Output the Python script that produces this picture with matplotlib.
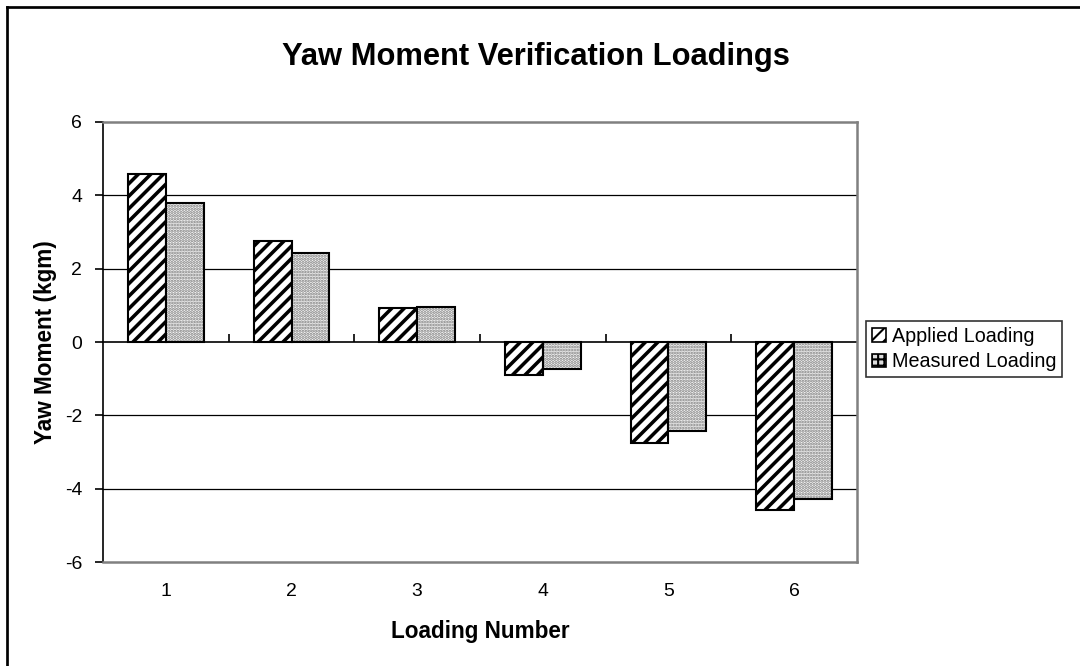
import matplotlib
matplotlib.use("Agg")
import matplotlib.pyplot as plt
from matplotlib.lines import Line2D
from matplotlib.patches import Patch
import numpy as np

categories = ["1", "2", "3", "4", "5", "6"]
applied = [4.58, 2.75, 0.92, -0.90, -2.75, -4.58]
measured = [3.78, 2.42, 0.95, -0.74, -2.43, -4.28]
yticks = [-6, -4, -2, 0, 2, 4, 6]

plt.rcParams['font.family'] = ['Liberation Sans', 'DejaVu Sans']

DPI = 150
fig = plt.figure(figsize=(1080 / DPI, 666 / DPI), dpi=DPI)
ax = fig.add_axes([103 / 1080, 1 - 562 / 666, (857 - 103) / 1080, (562 - 122) / 666])

x = np.arange(1, len(categories) + 1)
w = 0.3

# Applied: thick diagonal stripes
plt.rcParams['hatch.linewidth'] = 1.7
ax.bar(x - w / 2, applied, width=w, facecolor='white', edgecolor='black',
       hatch='////', linewidth=1.0, zorder=3)

# Measured: fine grey dots
plt.rcParams['hatch.linewidth'] = 1.0
ax.bar(x + w / 2, measured, width=w, facecolor='#f2f2f2', edgecolor='#808080',
       hatch='........', linewidth=0, zorder=3)
ax.bar(x + w / 2, measured, width=w, facecolor='none', edgecolor='black',
       linewidth=1.0, zorder=4)

ax.set_xlim(0.5, len(categories) + 0.5)
ax.set_ylim(-6, 6)
ax.set_yticks(yticks)
ax.set_yticklabels([str(t) for t in yticks], fontsize=9.3)
ax.set_xticks(x)
ax.set_xticklabels(categories, fontsize=9.3)
ax.tick_params(axis='x', length=0, pad=10)
ax.tick_params(axis='y', direction='out', length=4, width=0.8, color='black', pad=6)

for yv in yticks:
    if yv not in (0, 6, -6):
        ax.axhline(yv, color='black', linewidth=0.6, zorder=1)

for side in ('top', 'right', 'bottom'):
    ax.spines[side].set_color('#808080')
    ax.spines[side].set_linewidth(1.2)
ax.spines['left'].set_color('black')
ax.spines['left'].set_linewidth(0.8)

# category axis at zero with tick marks between categories
sec = ax.secondary_xaxis(0.5)
sec.set_xticks(np.arange(1.5, len(categories), 1.0))
sec.set_xticklabels([])
sec.tick_params(direction='out', length=4, width=0.8, color='black')
sec.spines['bottom'].set_color('#808080')
sec.spines['bottom'].set_linewidth(1.2)
sec.spines['bottom'].set_zorder(5)

fig.text(536 / 1080, 1 - 57 / 666, "Yaw Moment Verification Loadings",
         ha='center', va='center', fontsize=14.8, fontweight='bold')
fig.text(480 / 1080, 1 - 631 / 666, "Loading Number",
         ha='center', va='center', fontsize=10.8, fontweight='bold')
fig.text(46 / 1080, 1 - 342 / 666, "Yaw Moment (kgm)", rotation=90,
         ha='center', va='center', fontsize=10.8, fontweight='bold')

plt.rcParams['hatch.linewidth'] = 1.0
handles = [Patch(facecolor='white', edgecolor='black', hatch='////', linewidth=0.8),
           Patch(facecolor='#dddddd', edgecolor='black', hatch='++++', linewidth=0.8)]
leg = fig.legend(handles, ["Applied Loading", "Measured Loading"],
                 loc='center left', bbox_to_anchor=(866 / 1080, 1 - 349 / 666),
                 fontsize=9.5, frameon=True, fancybox=False, handlelength=0.7,
                 handleheight=0.7, handletextpad=0.3, borderpad=0.3,
                 labelspacing=0.35, borderaxespad=0)
leg.get_frame().set_edgecolor('black')
leg.get_frame().set_linewidth(0.8)

# outer chart border (left and top visible)
fig.add_artist(Line2D([7 / 1080, 7 / 1080], [0, 1 - 7 / 666], color='black',
                      linewidth=1.3, transform=fig.transFigure))
fig.add_artist(Line2D([7 / 1080, 1], [1 - 7 / 666, 1 - 7 / 666], color='black',
                      linewidth=1.3, transform=fig.transFigure))

fig.savefig("out.png", dpi=DPI)
